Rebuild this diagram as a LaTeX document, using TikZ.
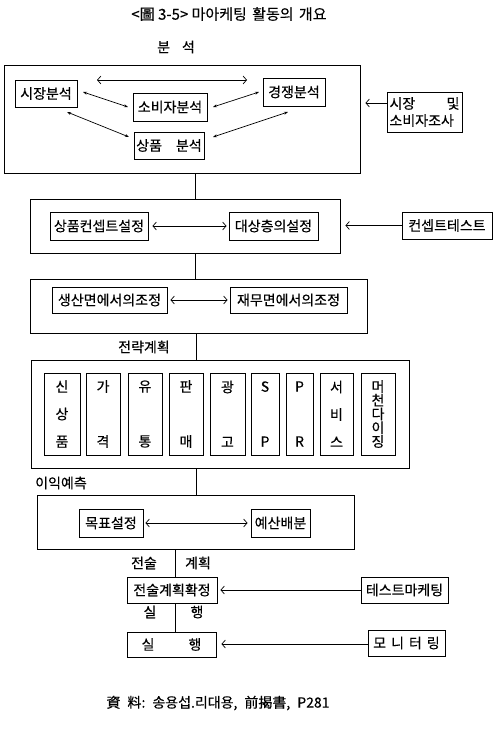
\documentclass[tikz,border=0pt]{standalone}
\usepackage{fontspec}
\setmainfont{Noto Sans CJK KR}[FakeBold=0.35]
\usetikzlibrary{arrows.meta}
\newcommand\fsmain{\fontsize{14}{16}\selectfont}
\begin{document}
\begin{tikzpicture}[x=1pt,y=1pt,
  >={Straight Barb[length=3.5pt,width=8pt]},
  box/.style={draw, line width=0.9pt, inner sep=0pt, font=\fsmain},
  outer/.style={draw, line width=0.9pt, inner sep=0pt},
  lbl/.style={inner sep=0pt, font=\fsmain},
  arr/.style={line width=0.7pt},
  sbox/.style={draw, line width=0.9pt, inner sep=0pt, minimum height=82pt, align=center, font=\fontsize{14}{27.5}\selectfont},
  spine/.style={line width=0.8pt}]
\useasboundingbox (0,0) rectangle (500,-738);

% title
\node[lbl, font=\fontsize{15}{17}\selectfont] (title) at (229,-14) {<圖 3-5> 마아케팅\hspace{2pt} 활동의\hspace{2pt} 개요};
\node[lbl] (bunseok) at (176,-47) {분\hspace{12pt}석};

% spine coordinates
\coordinate (sp1) at (195,0);
\coordinate (sp2) at (196,0);
\coordinate (sp3) at (175.5,0);

% box 1
\node[outer, minimum width=356pt, minimum height=108pt] (b1) at (182,-119) {};
\node[box, minimum width=62pt, minimum height=27pt] (market) at (46,-93.5) {시장분석};
\node[box, minimum width=74pt, minimum height=28pt] (consumer) at (170,-107) {소비자분석};
\node[box, minimum width=62pt, minimum height=28pt] (compet) at (294,-92) {경쟁분석};
\node[box, minimum width=70pt, minimum height=27pt] (product) at (169,-145.5) {상품\hspace{14pt}분석};
\node[box, minimum width=75pt, minimum height=40pt, align=left, font=\fontsize{14}{17}\selectfont] (survey) at (424.5,-112) {\makebox[70pt][s]{시장\hfill 및}\\소비자조사};

\coordinate (t1) at (97,-80);
\coordinate (t2) at (247,-80);
\coordinate (a1s) at (83,-92);
\coordinate (a1e) at (128,-107);
\coordinate (a2s) at (213,-107);
\coordinate (a2e) at (259,-92);
\coordinate (a3s) at (67,-112);
\coordinate (a3e) at (129,-137);
\coordinate (a4s) at (288,-112);
\coordinate (a4e) at (213,-137);
\draw[arr,<->] (t1) -- (t2);
\draw[arr,<->,>={Stealth[length=4pt,width=3pt]}] (a1s) -- (a1e);
\draw[arr,<->,>={Stealth[length=4pt,width=3pt]}] (a2s) -- (a2e);
\draw[arr,<->,>={Stealth[length=4pt,width=3pt]}] (a3s) -- (a3e);
\draw[arr,<->,>={Stealth[length=4pt,width=3pt]}] (a4s) -- (a4e);
\draw[arr,->,shorten >=5pt] ([yshift=9pt]survey.west) -- ([yshift=9pt]survey.west -| b1.east);

% box 2
\node[outer, minimum width=310pt, minimum height=54pt] (b2) at (185,-226) {};
\node[box, minimum width=98pt, minimum height=28pt] (concept) at (99,-226) {상품컨셉트설정};
\node[box, minimum width=89pt, minimum height=28pt] (target) at (273.5,-226) {대상층의설정};
\node[box, minimum width=90pt, minimum height=27pt] (ctest) at (447,-225.5) {컨셉트테스트};
\draw[arr,<->,shorten <=4pt,shorten >=2pt] (concept.east) -- (target.west);
\draw[arr,->,shorten >=5pt] (ctest.west) -- (ctest.west -| b2.east);

% box 3
\node[outer, minimum width=337pt, minimum height=54pt] (b3) at (198.5,-306) {};
\node[box, minimum width=115pt, minimum height=26pt] (prod) at (109.5,-300) {생산면에서의조정};
\node[box, minimum width=117pt, minimum height=26pt] (fin) at (288.5,-300) {재무면에서의조정};
\draw[arr,<->,shorten <=3pt,shorten >=2pt] (prod.east) -- (fin.west);

% box 4
\node[lbl] (strat) at (144,-347) {전략계획};
\node[outer, minimum width=378pt, minimum height=108pt] (b4) at (220,-414) {};
\foreach \c/\w/\t [count=\i] in {62/36/{신\\상\\품}, 103/34/{가\\~\\격}, 145/34/{유\\~\\통}, 186/34/{판\\~\\매}, 227.5/35/{광\\~\\고}, 265/28/{S\\~\\P}, 299.5/27/{P\\~\\R}, 336.5/33/{서\\비\\스}}
  \node[sbox, minimum width=\w pt] (s\i) at (\c,-414) {\t};
\node[sbox, minimum width=34pt, font=\fontsize{14}{13.75}\selectfont] (s9) at (378,-414) {머\\천\\다\\이\\징};

% box 5
\node[lbl] (profit) at (61,-483) {이익예측};
\node[outer, minimum width=317pt, minimum height=54pt] (b5) at (195.5,-522) {};
\node[box, minimum width=64pt, minimum height=28pt] (goal) at (111,-523) {목표설정};
\node[box, minimum width=59pt, minimum height=28pt] (budget) at (280.5,-523) {예산배분};
\draw[arr,<->,shorten <=2pt,shorten >=3pt] (goal.east) -- (budget.west);

% tactics
\node[lbl] (jeonsul) at (144,-563) {전술};
\node[lbl] (gyehoek) at (198,-563) {계획};
\node[box, minimum width=90pt, minimum height=26pt] (tactic) at (172,-590) {전술계획확정};
\node[box, minimum width=87pt, minimum height=26pt] (testm) at (404.5,-590) {테스트마케팅};
\draw[arr,->,shorten >=3pt] (testm.west) -- (tactic.east);

\node[lbl] (sil) at (150,-612) {실};
\node[lbl] (haeng) at (197,-612) {행};
\node[box, minimum width=89pt, minimum height=25pt] (exec) at (171.5,-644.5) {실\hspace{34pt}행};
\node[box, minimum width=77pt, minimum height=26pt] (monit) at (406.5,-643) {모\hspace{5pt}니\hspace{5pt}터\hspace{5pt}링};
\draw[arr,->,shorten >=5pt] ([yshift=-1pt]monit.west) -- ([yshift=-1pt]monit.west -| exec.east);

% spine
\draw[spine] (b1.south -| sp1) -- (b2.north -| sp1);
\draw[spine] (b2.south -| sp1) -- (b3.north -| sp1);
\draw[spine] (b3.south -| sp2) -- (b4.north -| sp2);
\draw[spine] (b4.south -| sp2) -- (b5.north -| sp2);
\draw[spine] (b5.south -| sp3) -- (tactic.north -| sp3);
\draw[spine] (tactic.south -| sp3) -- (exec.north -| sp3);

% footer
\node[lbl, font=\fontsize{14}{16}\selectfont] (source) at (218,-703) {資\hspace{7pt}料:\hspace{7pt}송용섭.리대용,\hspace{7pt}前揭書,\hspace{7pt}P281};
\end{tikzpicture}
\end{document}
